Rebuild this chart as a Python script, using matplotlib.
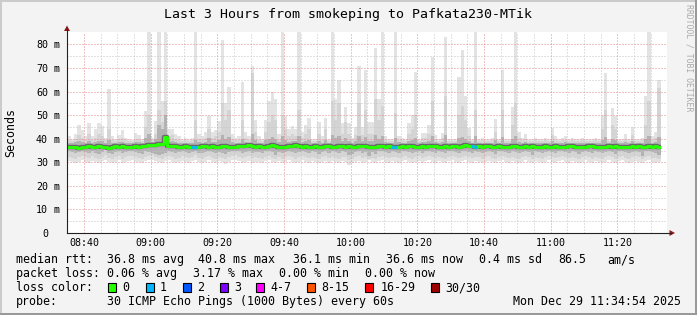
import numpy as np
import matplotlib
matplotlib.use("Agg")
import matplotlib.pyplot as plt
import matplotlib.transforms as mtransforms
from matplotlib.patches import Rectangle, Polygon

plt.rcParams['font.family'] = ['DejaVu Sans Mono']

# 데이터: 08:35부터 1분 간격 (분 단위, 08:00 기준)
start_min = 35

median_rtt = [
    36.5, 36.4, 36.6, 36.2, 36.5, 36.7, 36.9, 36.6, 36.4, 36.8, 36.5, 36.7, 36.1, 36.6, 36.8, 36.5, 36.9, 36.7, 36.6, 36.4,
    36.8, 36.6, 36.9, 37.1, 37.3, 37.2, 37.4, 37.8, 37.9, 40.8, 37.0, 36.8, 36.9, 36.7, 36.5, 36.8, 36.6, 36.4, 36.5, 36.7,
    36.9, 36.8, 36.6, 36.9, 36.7, 36.5, 36.8, 37.0, 36.6, 36.4, 36.7, 36.9, 37.1, 36.8, 37.2, 37.0, 36.6, 36.8, 36.5, 36.7,
    36.9, 37.2, 36.8, 36.5, 36.3, 36.7, 36.9, 37.1, 37.3, 36.9, 36.6, 36.8, 36.5, 36.7, 36.9, 36.6, 36.4, 36.8, 37.0, 36.7,
    36.5, 36.8, 37.0, 36.6, 36.9, 36.7, 36.5, 36.8, 37.1, 36.9, 36.6, 36.4, 36.7, 36.9, 36.8, 36.6, 36.8, 36.5, 36.4, 36.7,
    36.9, 36.6, 36.8, 37.0, 36.7, 36.5, 36.8, 36.6, 36.9, 37.1, 36.8, 36.6, 36.7, 36.9, 36.6, 36.8, 37.0, 36.7, 36.9, 37.2,
    37.0, 36.8, 36.7, 36.9, 36.6, 36.8, 37.0, 36.7, 36.5, 36.8, 36.6, 36.4, 36.7, 36.9, 36.8, 36.5, 36.7, 36.9, 36.6, 36.8,
    36.6, 36.4, 36.7, 36.9, 36.5, 36.7, 36.8, 36.6, 36.4, 36.7, 36.9, 36.8, 36.6, 36.4, 36.7, 36.5, 36.8, 36.9, 36.6, 36.4,
    36.7, 36.5, 36.8, 36.6, 36.9, 36.7, 36.5, 36.4, 36.7, 36.9, 36.6, 36.8, 36.5, 36.7, 36.9, 36.6, 36.8, 36.6,
]

# 가장 바깥 (최소 ~ 최대 ping)
rtt_min = [
    30.5, 30.0, 29.5, 30.2, 31.0, 30.0, 29.8, 30.5, 30.0, 29.5, 30.4, 31.0, 30.0, 29.6, 30.3, 30.8, 29.5, 30.0, 30.6, 31.0,
    30.2, 30.0, 29.5, 30.4, 30.8, 31.0, 30.5, 30.0, 29.8, 30.5, 31.0, 30.2, 29.6, 30.0, 30.6, 30.3, 29.8, 30.5, 31.0, 30.0,
    29.5, 30.2, 30.8, 30.0, 29.6, 30.4, 30.0, 29.4, 30.2, 30.8, 31.0, 30.5, 29.8, 30.2, 30.6, 29.9, 30.3, 30.0, 29.6, 30.5,
    30.8, 30.0, 29.7, 30.4, 29.5, 30.2, 30.8, 30.1, 29.6, 30.3, 30.9, 30.2, 29.8, 30.5, 30.0, 29.5, 30.3, 30.7, 29.9, 30.4,
    30.0, 29.6, 30.5, 30.1, 28.8, 29.5, 30.2, 30.6, 29.8, 30.3, 30.8, 30.0, 29.5, 30.4, 30.9, 30.1, 29.7, 30.5, 30.2, 29.8,
    30.4, 30.8, 30.0, 29.6, 30.3, 30.7, 29.9, 30.4, 30.9, 30.2, 29.8, 30.5, 30.0, 29.6, 30.4, 30.8, 30.1, 29.7, 30.4, 30.9,
    30.2, 29.8, 30.5, 30.1, 29.6, 30.3, 30.7, 30.0, 29.5, 30.4, 30.8, 30.2, 29.7, 30.5, 30.0, 29.6, 30.3, 30.9, 30.1, 29.7,
    30.4, 30.0, 29.6, 30.3, 30.8, 30.1, 29.7, 30.4, 30.9, 30.2, 29.8, 30.5, 30.0, 29.5, 30.3, 30.8, 30.1, 29.6, 30.4, 30.0,
    29.6, 30.3, 30.8, 30.1, 29.5, 30.4, 30.9, 30.0, 29.6, 30.3, 30.7, 30.1, 29.5, 30.4, 30.8, 30.0, 29.7, 30.3,
]
rtt_max = [
    41, 40, 42, 46, 43.5, 41, 46.5, 41, 44, 46.5, 45.5, 40.5, 61, 41, 40, 41.5, 43.5, 40.5, 40, 39.5,
    42.5, 41.5, 40, 51.8, 90, 40.5, 47.5, 90, 56, 90, 44, 44, 42, 41, 40, 40.5, 40, 40.5, 90, 42,
    41, 43, 49.8, 43, 43.5, 47.5, 82, 55, 62, 42, 40.5, 41, 64, 43, 41, 71, 48, 41, 40, 48,
    56, 60, 57, 42, 90, 49.5, 44, 45.5, 44, 90, 43, 46, 49, 40, 40, 47, 41, 49, 40, 90,
    57, 65, 46.5, 53.5, 46.5, 40.5, 45, 71, 45, 69, 47, 47, 78.5, 57, 90, 41, 40, 40, 90, 41,
    40.5, 40, 46.5, 50, 68.5, 40, 42.5, 42.5, 46, 74.5, 41.5, 40, 42.5, 83, 40, 40, 40, 66, 77.5, 58,
    44.5, 40, 90, 40, 40.5, 40, 40, 40.5, 48.5, 40, 69, 40, 40, 53.5, 90, 43, 40.5, 42, 40, 40,
    40.5, 40, 40, 40.5, 40, 44.7, 41, 40, 40.5, 41, 40, 40.5, 40, 40, 40.5, 40, 40, 40, 40.5, 40,
    50, 68, 40, 53, 49.5, 40, 40, 42, 40, 45, 40, 40, 40.5, 58, 90, 41, 43, 65,
]

# 두 번째 층
band_lo = [
    32.4, 32.0, 31.6, 32.2, 32.8, 32.1, 31.7, 32.5, 32.0, 31.5, 32.3, 32.9, 31.9, 31.6, 32.2, 32.7, 31.5, 32.1, 32.6, 32.8,
    32.3, 32.0, 31.6, 32.4, 32.6, 32.9, 32.2, 31.8, 31.5, 32.3, 32.8, 32.1, 31.6, 32.0, 32.5, 32.2, 31.7, 32.4, 32.9, 32.0,
    31.6, 32.2, 32.7, 32.0, 31.6, 32.3, 32.0, 31.4, 32.1, 32.7, 32.9, 32.4, 31.8, 32.2, 32.6, 31.9, 32.3, 32.0, 31.6, 32.4,
    32.7, 32.0, 31.2, 32.3, 31.6, 32.2, 32.7, 32.1, 31.6, 32.3, 32.8, 32.2, 31.8, 32.4, 32.0, 31.5, 32.3, 32.6, 31.9, 32.4,
    32.0, 31.6, 32.4, 32.1, 31.0, 31.5, 32.2, 32.6, 31.8, 32.3, 31.4, 32.0, 31.5, 32.4, 32.8, 32.1, 31.7, 32.4, 32.2, 31.8,
    32.4, 32.7, 32.0, 31.6, 32.3, 32.6, 31.9, 32.4, 32.8, 32.2, 31.8, 32.4, 32.0, 31.6, 32.4, 32.7, 32.1, 31.7, 32.4, 32.8,
    32.2, 31.8, 32.4, 32.1, 31.6, 32.3, 32.6, 32.0, 31.5, 32.4, 32.7, 32.2, 31.7, 32.4, 32.0, 31.6, 32.3, 32.8, 32.1, 31.2,
    32.4, 32.0, 31.6, 32.3, 32.7, 32.1, 31.7, 32.4, 32.8, 32.2, 31.8, 32.4, 32.0, 31.5, 32.3, 32.7, 32.1, 31.6, 32.4, 32.0,
    31.6, 32.3, 32.7, 32.1, 31.5, 32.4, 32.8, 32.0, 31.6, 32.3, 32.6, 32.1, 31.3, 32.4, 32.7, 32.0, 31.7, 31.2,
]
band_hi = [
    39.5, 39, 40, 41.5, 40.5, 39.5, 42, 39.5, 40.5, 42, 41, 39.5, 44, 39.5, 39, 40, 40.5, 39.5, 39, 39,
    40, 40, 39, 45, 50, 39.5, 42, 52, 47, 56, 41, 41.5, 40, 39.5, 39, 39.5, 39, 39.5, 48, 40,
    39.5, 40.5, 44, 40.5, 41, 43, 55, 48, 52, 40, 39.5, 39.5, 48, 40.5, 39.5, 68, 43, 39.5, 39, 43,
    47, 50, 48, 40, 50, 44, 41, 42, 41, 52, 40.5, 42, 44, 39, 39, 42, 39.5, 44, 39, 56,
    48, 55, 42, 47, 42, 39.5, 41.5, 55, 41.5, 52, 42, 42, 57, 48, 54, 39.5, 39, 39, 51, 39.5,
    39.5, 39, 42, 44, 50, 39, 40.5, 40.5, 42, 56, 40, 39, 40.5, 58, 39, 39, 39, 50, 54, 48,
    41, 39, 52, 39, 39.5, 39, 39, 39.5, 43, 39, 52, 39, 39, 46, 55, 40.5, 39.5, 40, 39, 39,
    39.5, 39, 39, 39.5, 39, 41.5, 39.5, 39, 39.5, 39.5, 39, 39.5, 39, 39, 39.5, 39, 39, 39, 39.5, 39,
    44, 52, 39, 46, 44, 39, 39, 40, 39, 41.5, 39, 39, 39.5, 45.8, 56, 39.5, 40.5, 61.5,
]

# 안쪽 (진한) 층
core_lo = [
    34.6, 34.2, 33.8, 34.5, 35.0, 34.3, 33.9, 34.7, 34.1, 33.6, 34.4, 35.1, 34.0, 33.7, 34.5, 34.9, 33.8, 34.3, 34.8, 35.0,
    34.4, 34.1, 33.7, 34.6, 34.2, 34.0, 33.5, 33.2, 33.4, 33.8, 34.9, 34.3, 33.8, 34.2, 34.7, 34.4, 33.9, 34.5, 35.0, 34.1,
    33.8, 34.4, 34.8, 34.2, 33.8, 34.5, 34.1, 33.6, 34.3, 34.8, 35.0, 34.6, 34.0, 34.4, 34.8, 34.1, 34.5, 34.2, 33.8, 34.6,
    34.8, 34.2, 33.0, 34.5, 33.8, 34.4, 34.9, 34.3, 33.8, 34.5, 34.9, 34.4, 34.0, 34.6, 34.2, 33.7, 34.5, 34.8, 34.1, 34.6,
    34.2, 33.8, 34.6, 34.3, 33.2, 33.7, 34.4, 34.8, 34.0, 34.5, 32.8, 34.2, 33.7, 34.6, 34.9, 34.3, 33.9, 34.6, 34.4, 34.0,
    34.6, 34.9, 34.2, 33.8, 34.5, 34.8, 34.1, 34.6, 35.0, 34.4, 34.0, 34.6, 34.2, 33.8, 34.6, 34.9, 34.3, 33.9, 34.6, 35.0,
    34.4, 34.0, 34.6, 34.3, 33.8, 34.5, 34.8, 34.2, 33.7, 34.6, 34.9, 34.4, 33.9, 34.6, 34.2, 33.8, 34.5, 34.9, 34.3, 32.9,
    34.6, 34.2, 33.8, 34.5, 34.9, 34.3, 33.9, 34.6, 35.0, 34.4, 34.0, 34.6, 34.2, 33.7, 34.5, 34.9, 34.3, 33.8, 34.6, 34.2,
    33.8, 34.5, 34.9, 34.3, 33.7, 34.6, 35.0, 34.2, 33.8, 34.5, 34.8, 34.3, 32.8, 34.6, 34.9, 34.2, 33.9, 32.9,
]
core_hi = [
    38.4, 38.2, 38.6, 39.0, 38.5, 38.3, 39.2, 38.4, 38.8, 39.1, 38.9, 38.2, 39.6, 38.4, 38.1, 38.5, 38.7, 38.3, 38.2, 38.0,
    38.6, 38.5, 38.2, 40.5, 42.0, 38.6, 40.0, 46.0, 44.0, 50.0, 38.8, 38.9, 38.6, 38.4, 38.2, 38.4, 38.1, 38.3, 39.5, 38.6,
    38.4, 38.8, 40.2, 38.7, 38.8, 39.5, 41.5, 40.0, 40.8, 38.6, 38.3, 38.4, 40.0, 38.7, 38.4, 42.0, 39.4, 38.4, 38.2, 39.4,
    40.0, 40.6, 40.0, 38.6, 41.0, 39.6, 38.8, 39.0, 38.9, 41.2, 38.7, 39.1, 39.6, 38.3, 38.2, 39.2, 38.4, 39.6, 38.2, 41.5,
    40.2, 41.0, 39.0, 40.4, 39.0, 38.4, 38.9, 41.0, 38.9, 40.6, 39.2, 39.2, 41.5, 40.0, 41.0, 38.5, 38.2, 38.3, 40.2, 38.5,
    38.4, 38.2, 39.0, 39.6, 40.5, 38.2, 38.7, 38.7, 39.1, 41.2, 38.5, 38.2, 38.7, 41.5, 38.2, 38.2, 38.2, 40.2, 40.8, 40.0,
    38.9, 38.3, 41.0, 38.2, 38.4, 38.2, 38.3, 38.4, 39.4, 38.2, 40.6, 38.3, 38.2, 39.8, 41.0, 38.7, 38.4, 38.6, 38.2, 38.3,
    38.4, 38.2, 38.3, 38.4, 38.2, 38.9, 38.4, 38.2, 38.4, 38.5, 38.2, 38.4, 38.2, 38.3, 38.4, 38.2, 38.3, 38.2, 38.4, 38.2,
    39.6, 40.8, 38.3, 39.8, 39.4, 38.2, 38.3, 38.6, 38.2, 38.9, 38.3, 38.2, 38.4, 40.0, 41.2, 38.4, 38.7, 40.6,
]

# 손실이 있던 분 (인덱스, 손실 ping 수)
loss_index = [37, 38, 97, 98, 121, 122]
loss_count = [1, 1, 1, 1, 1, 1]

loss_labels = ["0", "1", "2", "3", "4-7", "8-15", "16-29", "30/30"]
loss_colors = ['#26ff00', '#00b8ff', '#0059ff', '#7e00ff', '#ff00ff', '#ff5500', '#ff0000', '#a10000']

x_major = [40, 60, 80, 100, 120, 140, 160, 180, 200]
x_labels = ["08:40", "09:00", "09:20", "09:40", "10:00", "10:20", "10:40", "11:00", "11:20"]
y_major = [0, 10, 20, 30, 40, 50, 60, 70, 80]
y_labels = ["0", "10", "20", "30", "40", "50", "60", "70", "80"]

title = "Last 3 Hours from smokeping to Pafkata230-MTik"
legend_rows = [
    [(16, "median rtt:"), (107, "36.8 ms avg"), (198, "40.8 ms max"), (293, "36.1 ms min"),
     (386, "36.6 ms now"), (479, "0.4 ms sd"), (558, "86.5"), (607, "am/s")],
    [(16, "packet loss:"), (107, "0.06 % avg"), (193, "3.17 % max"), (279, "0.00 % min"), (365, "0.00 % now")],
    [(16, "loss color:")],
    [(16, "probe:"), (107, "30 ICMP Echo Pings (1000 Bytes) every 60s"), (513, "Mon Dec 29 11:34:54 2025")],
]
row_base = [263.3, 277.3, 291.2, 305.0]
swatch_x = [108, 145.5, 182.5, 219.5, 256, 306.5, 365, 430.5]
swatch_label_x = [122.7, 160, 197, 234, 270.7, 321.7, 380.7, 445]

# 레이아웃 (픽셀)
W, H = 697, 315
L, R, T, B = 67, 667, 32, 233

fig = plt.figure(figsize=(W / 100, H / 100), dpi=100)
fig.patch.set_facecolor('#f3f3f3')

ax = fig.add_axes([L / W, 1 - B / H, (R - L) / W, (B - T) / H])
ax.set_facecolor('white')
for s in ax.spines.values():
    s.set_visible(False)
ax.set_xlim(34.9, 214.9)
ax.set_ylim(0, 85.3)

n = len(median_rtt)
x = start_min + np.arange(n)

# smoke
layers = [(rtt_min, rtt_max, '#e3e3e3'), (band_lo, band_hi, '#d4d4d4'), (core_lo, core_hi, '#b2b2b2')]
for lo, hi, col in layers:
    lo = np.array(lo, dtype=float)
    hi = np.array(hi, dtype=float)
    ax.bar(x, hi - lo, bottom=lo, width=1.0, align='edge', color=col,
           linewidth=0, antialiased=False, zorder=1)

# grid
x_minor = [v for v in range(35, 215, 5) if v not in x_major]
y_minor = [v for v in range(5, 85, 10)]
ax.vlines(x_minor, 0, 85.3, colors='#c4c4c4', lw=0.72, linestyles=(0, (1, 2)), zorder=2)
ax.hlines(y_minor, 34.9, 214.9, colors='#c4c4c4', lw=0.72, linestyles=(0, (1, 2)), zorder=2)
ax.vlines(x_major, 0, 85.3, colors='#e48c8c', lw=0.72, linestyles=(0, (1, 2)), zorder=2)
ax.hlines(y_major[1:], 34.9, 214.9, colors='#e48c8c', lw=0.72, linestyles=(0, (1, 2)), zorder=2)

# median
xe = np.r_[x, x[-1] + 1]
me = np.r_[median_rtt, median_rtt[-1]]
ax.step(xe, me, where='post', color='#6a6a6a', lw=3.2, zorder=3, solid_capstyle='butt')
ax.step(xe, me, where='post', color=loss_colors[0], lw=2.16, zorder=4, solid_capstyle='butt')
for i, c in zip(loss_index, loss_count):
    ax.hlines(median_rtt[i], x[i], x[i] + 1, colors=loss_colors[c], lw=2.16, zorder=5)

# ticks
ax.set_xticks(x_major, x_labels)
ax.set_yticks([])
ax.tick_params(axis='x', length=0, pad=3.9, labelsize=7.18)
trans = mtransforms.blended_transform_factory(ax.transAxes, ax.transData)
for v, lab in zip(y_major, y_labels):
    ax.text((48 - L) / (R - L), v, lab, transform=trans, ha='right', va='center_baseline', fontsize=7.18)
    if v > 0:
        ax.text((54 - L) / (R - L), v, "m", transform=trans, ha='left', va='center_baseline', fontsize=7.18)

# 오버레이 (픽셀 좌표)
bg = fig.add_axes([0, 0, 1, 1], zorder=5)
bg.patch.set_alpha(0)
bg.set_xlim(0, W)
bg.set_ylim(H, 0)
bg.axis('off')

# 테두리
bg.plot([0, W], [1, 1], color='#cbcbcb', lw=1.44, solid_capstyle='butt')
bg.plot([1, 1], [0, H], color='#cbcbcb', lw=1.44, solid_capstyle='butt')
bg.plot([0, W], [H - 1, H - 1], color='#999999', lw=1.44, solid_capstyle='butt')
bg.plot([W - 1, W - 1], [0, H], color='#999999', lw=1.44, solid_capstyle='butt')

# 축 + 화살표
bg.plot([L, L], [B, 29], color='#222222', lw=0.8)
bg.plot([L, 671], [B, B], color='#222222', lw=0.8)
bg.add_patch(Polygon([(L, 25.5), (L - 3, 31), (L + 3, 31)], closed=True, color='#8b1a1a', lw=0))
bg.add_patch(Polygon([(675, B), (669.5, B - 3), (669.5, B + 3)], closed=True, color='#8b1a1a', lw=0))

bg.text(348.5, 18.3, title, ha='center', va='baseline', fontsize=9.57)
bg.text(11, 132.5, "Seconds", rotation=90, ha='center', va='center', fontsize=8.37)
bg.text(688.5, 4, "RRDTOOL / TOBI OETIKER", rotation=270, ha='center', va='top',
        fontsize=5.86, color='#aaaaaa')

for row, yb in zip(legend_rows, row_base):
    for xp, s in row:
        bg.text(xp, yb, s, ha='left', va='baseline', fontsize=8.37)

for xs, xl, lab, col in zip(swatch_x, swatch_label_x, loss_labels, loss_colors):
    bg.add_patch(Rectangle((xs, 283), 8, 8.5, facecolor=col, edgecolor='black', lw=0.8))
    bg.text(xl, row_base[2], lab, ha='left', va='baseline', fontsize=8.37)

fig.savefig('out.png', dpi=100)
